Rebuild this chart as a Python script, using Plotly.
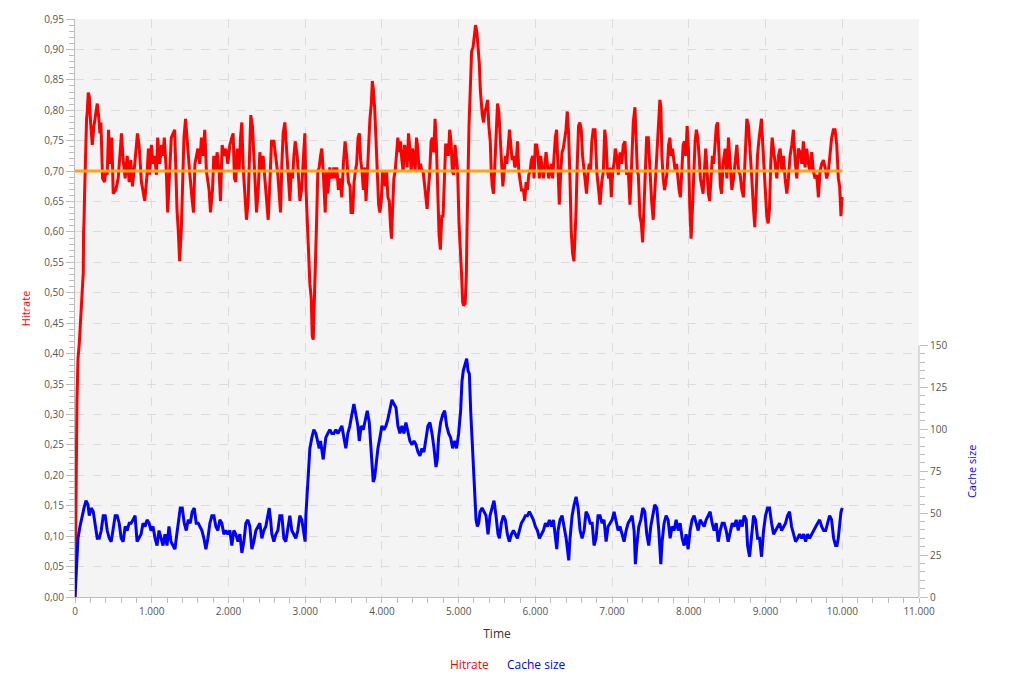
import plotly.graph_objects as go

# ---------------- data ----------------
hit_time = [0, 17, 26, 39, 56, 78, 95, 108, 112, 117, 125, 134, 143, 151, 160, 173, 186, 203, 225, 247,
            273, 290, 307, 325, 338, 346, 359, 385, 403, 420, 437, 454, 480, 498, 532, 563, 606, 628, 654, 680,
            706, 727, 749, 779, 814, 835, 866, 909, 939, 957, 974, 996, 1017, 1039, 1061, 1078, 1104, 1130, 1147, 1164,
            1190, 1208, 1234, 1255, 1299, 1312, 1329, 1346, 1364, 1385, 1407, 1420, 1441, 1463, 1493, 1528, 1545, 1563, 1602, 1626,
            1648, 1670, 1691, 1713, 1748, 1766, 1792, 1809, 1835, 1852, 1878, 1896, 1918, 1940, 1966, 1992, 2018, 2044, 2061, 2078,
            2096, 2113, 2139, 2157, 2174, 2192, 2213, 2235, 2257, 2278, 2291, 2313, 2331, 2349, 2366, 2388, 2409, 2431, 2452, 2478,
            2496, 2518, 2540, 2562, 2592, 2618, 2644, 2661, 2679, 2696, 2713, 2735, 2757, 2779, 2801, 2818, 2835, 2853, 2870, 2896,
            2913, 2931, 2952, 2974, 2996, 3009, 3026, 3044, 3061, 3079, 3092, 3105, 3118, 3131, 3148, 3165, 3183, 3200, 3217, 3235,
            3261, 3278, 3295, 3321, 3347, 3373, 3390, 3412, 3433, 3455, 3477, 3498, 3520, 3541, 3563, 3585, 3598, 3619, 3637, 3654,
            3671, 3689, 3706, 3723, 3741, 3758, 3775, 3793, 3810, 3827, 3844, 3862, 3875, 3888, 3905, 3922, 3940, 3957, 3974, 3992,
            4009, 4026, 4044, 4061, 4078, 4096, 4113, 4126, 4139, 4156, 4173, 4191, 4208, 4225, 4243, 4260, 4277, 4295, 4312, 4329,
            4347, 4364, 4381, 4399, 4416, 4433, 4451, 4468, 4485, 4503, 4520, 4537, 4554, 4572, 4589, 4606, 4624, 4641, 4658, 4676,
            4693, 4710, 4728, 4745, 4762, 4780, 4797, 4814, 4831, 4849, 4866, 4883, 4901, 4918, 4935, 4953, 4970, 4987, 5005, 5022,
            5039, 5052, 5065, 5085, 5100, 5109, 5122, 5135, 5152, 5169, 5187, 5204, 5221, 5238, 5256, 5269, 5282, 5295, 5308, 5325,
            5342, 5360, 5377, 5394, 5412, 5425, 5438, 5455, 5472, 5490, 5507, 5524, 5541, 5559, 5576, 5593, 5611, 5628, 5645, 5663,
            5680, 5697, 5715, 5732, 5749, 5767, 5784, 5801, 5819, 5844, 5862, 5879, 5896, 5914, 5931, 5948, 5966, 5983, 6000, 6018,
            6035, 6052, 6070, 6087, 6104, 6122, 6139, 6156, 6174, 6191, 6208, 6225, 6243, 6260, 6277, 6295, 6312, 6329, 6347, 6364,
            6381, 6399, 6416, 6433, 6451, 6468, 6485, 6503, 6515, 6528, 6546, 6563, 6580, 6598, 6615, 6632, 6650, 6667, 6684, 6702,
            6719, 6736, 6754, 6778, 6800, 6821, 6843, 6865, 6886, 6904, 6921, 6938, 6956, 6973, 6990, 7008, 7025, 7042, 7060, 7081,
            7103, 7125, 7146, 7168, 7190, 7211, 7233, 7255, 7276, 7298, 7311, 7329, 7342, 7363, 7381, 7398, 7415, 7433, 7450, 7472,
            7493, 7515, 7536, 7554, 7571, 7588, 7606, 7623, 7636, 7649, 7666, 7684, 7701, 7718, 7736, 7753, 7770, 7788, 7805, 7822,
            7840, 7857, 7874, 7891, 7909, 7926, 7943, 7961, 7978, 7995, 8013, 8030, 8047, 8065, 8082, 8099, 8117, 8134, 8151, 8169,
            8186, 8203, 8220, 8238, 8255, 8272, 8290, 8307, 8324, 8342, 8359, 8376, 8394, 8411, 8428, 8446, 8474, 8496, 8517, 8539,
            8561, 8583, 8604, 8626, 8648, 8669, 8691, 8713, 8735, 8756, 8778, 8800, 8821, 8843, 8860, 8878, 8895, 8912, 8930, 8947,
            8964, 8982, 8999, 9016, 9034, 9051, 9068, 9086, 9103, 9125, 9147, 9168, 9190, 9212, 9233, 9255, 9277, 9298, 9320, 9342,
            9363, 9385, 9407, 9428, 9450, 9472, 9493, 9515, 9537, 9559, 9580, 9602, 9624, 9645, 9667, 9689, 9710, 9732, 9754, 9776,
            9797, 9819, 9841, 9862, 9884, 9906, 9928, 9949, 9966, 9983, 9995, 10000]

hitrate = [0.0, 0.25, 0.325, 0.392, 0.417, 0.466, 0.509, 0.534, 0.60, 0.614, 0.663, 0.743, 0.749, 0.786, 0.798, 0.829, 0.823, 0.78, 0.743, 0.774,
           0.798, 0.811, 0.792, 0.762, 0.78, 0.718, 0.688, 0.682, 0.70, 0.694, 0.768, 0.712, 0.755, 0.663, 0.669, 0.688, 0.762, 0.718, 0.688, 0.725,
           0.682, 0.718, 0.675, 0.712, 0.762, 0.743, 0.682, 0.651, 0.694, 0.737, 0.694, 0.743, 0.712, 0.725, 0.694, 0.755, 0.712, 0.743, 0.725, 0.755,
           0.70, 0.632, 0.706, 0.755, 0.768, 0.70, 0.638, 0.602, 0.552, 0.602, 0.682, 0.755, 0.786, 0.743, 0.70, 0.651, 0.632, 0.712, 0.737, 0.712,
           0.755, 0.725, 0.768, 0.70, 0.669, 0.632, 0.669, 0.725, 0.70, 0.731, 0.70, 0.651, 0.743, 0.725, 0.737, 0.712, 0.743, 0.755, 0.762, 0.688,
           0.682, 0.737, 0.70, 0.755, 0.78, 0.706, 0.663, 0.62, 0.651, 0.749, 0.792, 0.774, 0.725, 0.688, 0.632, 0.669, 0.731, 0.70, 0.725, 0.682,
           0.651, 0.62, 0.682, 0.749, 0.749, 0.725, 0.694, 0.663, 0.632, 0.712, 0.762, 0.78, 0.737, 0.70, 0.651, 0.70, 0.688, 0.725, 0.749, 0.725,
           0.682, 0.651, 0.669, 0.712, 0.762, 0.675, 0.614, 0.559, 0.515, 0.491, 0.429, 0.423, 0.497, 0.565, 0.614, 0.70, 0.706, 0.725, 0.737, 0.70,
           0.632, 0.70, 0.663, 0.706, 0.688, 0.706, 0.688, 0.706, 0.669, 0.688, 0.657, 0.712, 0.749, 0.725, 0.682, 0.675, 0.632, 0.632, 0.682, 0.70,
           0.712, 0.755, 0.762, 0.718, 0.70, 0.669, 0.706, 0.651, 0.70, 0.749, 0.786, 0.811, 0.848, 0.835, 0.805, 0.755, 0.70, 0.645, 0.632, 0.651,
           0.70, 0.694, 0.675, 0.70, 0.657, 0.651, 0.608, 0.589, 0.638, 0.688, 0.70, 0.725, 0.755, 0.731, 0.749, 0.718, 0.70, 0.743, 0.731, 0.706,
           0.762, 0.737, 0.70, 0.737, 0.725, 0.70, 0.755, 0.737, 0.70, 0.712, 0.70, 0.70, 0.675, 0.657, 0.638, 0.669, 0.70, 0.749, 0.755, 0.731,
           0.786, 0.743, 0.663, 0.595, 0.571, 0.626, 0.626, 0.70, 0.743, 0.743, 0.725, 0.768, 0.749, 0.70, 0.694, 0.743, 0.718, 0.70, 0.614, 0.577,
           0.528, 0.485, 0.479, 0.482, 0.528, 0.60, 0.70, 0.774, 0.835, 0.897, 0.903, 0.928, 0.94, 0.928, 0.903, 0.878, 0.835, 0.805, 0.792, 0.78,
           0.798, 0.805, 0.817, 0.774, 0.749, 0.70, 0.675, 0.663, 0.712, 0.762, 0.811, 0.798, 0.749, 0.70, 0.675, 0.70, 0.725, 0.712, 0.743, 0.768,
           0.743, 0.718, 0.725, 0.706, 0.712, 0.749, 0.70, 0.688, 0.669, 0.669, 0.651, 0.682, 0.669, 0.694, 0.70, 0.718, 0.725, 0.688, 0.743, 0.743,
           0.725, 0.688, 0.725, 0.706, 0.688, 0.706, 0.731, 0.712, 0.688, 0.70, 0.712, 0.688, 0.731, 0.755, 0.768, 0.70, 0.645, 0.694, 0.731, 0.737,
           0.755, 0.768, 0.798, 0.762, 0.688, 0.60, 0.565, 0.552, 0.589, 0.626, 0.712, 0.774, 0.78, 0.768, 0.725, 0.70, 0.682, 0.663, 0.694, 0.712,
           0.70, 0.749, 0.768, 0.768, 0.70, 0.669, 0.645, 0.682, 0.70, 0.768, 0.749, 0.70, 0.688, 0.706, 0.657, 0.70, 0.712, 0.737, 0.725, 0.694,
           0.731, 0.712, 0.743, 0.749, 0.694, 0.70, 0.645, 0.712, 0.78, 0.805, 0.762, 0.70, 0.694, 0.626, 0.614, 0.583, 0.638, 0.70, 0.755, 0.755,
           0.70, 0.651, 0.62, 0.663, 0.70, 0.725, 0.768, 0.817, 0.805, 0.725, 0.688, 0.669, 0.682, 0.70, 0.743, 0.755, 0.725, 0.737, 0.718, 0.70,
           0.712, 0.688, 0.669, 0.657, 0.70, 0.743, 0.749, 0.725, 0.774, 0.737, 0.638, 0.589, 0.638, 0.706, 0.749, 0.768, 0.755, 0.725, 0.688, 0.675,
           0.663, 0.70, 0.737, 0.70, 0.663, 0.651, 0.70, 0.725, 0.712, 0.737, 0.774, 0.78, 0.725, 0.675, 0.663, 0.712, 0.737, 0.688, 0.755, 0.70,
           0.669, 0.688, 0.712, 0.743, 0.70, 0.694, 0.669, 0.657, 0.725, 0.786, 0.774, 0.718, 0.688, 0.638, 0.608, 0.663, 0.725, 0.749, 0.774, 0.786,
           0.743, 0.70, 0.651, 0.626, 0.614, 0.638, 0.712, 0.755, 0.737, 0.712, 0.688, 0.725, 0.737, 0.70, 0.725, 0.688, 0.663, 0.688, 0.725, 0.743,
           0.768, 0.718, 0.688, 0.737, 0.731, 0.712, 0.749, 0.706, 0.737, 0.712, 0.70, 0.731, 0.70, 0.688, 0.694, 0.657, 0.70, 0.712, 0.718, 0.706,
           0.688, 0.70, 0.725, 0.755, 0.768, 0.768, 0.743, 0.688, 0.675, 0.626, 0.657, 0.651]

cache_time = [0, 22, 39, 65, 91, 117, 143, 169, 186, 212, 238, 264, 290, 316, 342, 368, 394, 420, 446, 472,
              498, 524, 550, 576, 602, 628, 654, 680, 706, 731, 757, 783, 809, 835, 861, 887, 913, 939, 965, 991,
              1017, 1043, 1069, 1095, 1121, 1147, 1173, 1199, 1225, 1251, 1277, 1303, 1320, 1346, 1372, 1398, 1424, 1450, 1476, 1502,
              1528, 1554, 1580, 1606, 1654, 1680, 1706, 1732, 1758, 1784, 1810, 1836, 1862, 1888, 1914, 1940, 1966, 1992, 2018, 2044,
              2070, 2097, 2123, 2149, 2175, 2201, 2227, 2253, 2279, 2305, 2331, 2357, 2383, 2409, 2435, 2461, 2487, 2514, 2531, 2549,
              2566, 2592, 2618, 2644, 2670, 2696, 2722, 2748, 2774, 2800, 2826, 2852, 2878, 2904, 2930, 2956, 2982, 2999, 3009, 3026,
              3043, 3061, 3087, 3113, 3139, 3165, 3183, 3200, 3217, 3235, 3252, 3269, 3295, 3321, 3347, 3373, 3400, 3426, 3452, 3478,
              3504, 3530, 3556, 3582, 3608, 3635, 3661, 3687, 3705, 3731, 3757, 3783, 3809, 3835, 3852, 3870, 3887, 3905, 3922, 3948,
              3974, 4000, 4026, 4052, 4078, 4104, 4131, 4157, 4183, 4209, 4235, 4261, 4287, 4313, 4339, 4365, 4392, 4418, 4444, 4470,
              4496, 4522, 4548, 4574, 4600, 4626, 4653, 4679, 4705, 4722, 4739, 4765, 4792, 4818, 4844, 4870, 4896, 4922, 4948, 4974,
              5000, 5026, 5044, 5061, 5088, 5105, 5122, 5140, 5157, 5174, 5192, 5209, 5227, 5244, 5261, 5279, 5305, 5331, 5357, 5383,
              5409, 5435, 5461, 5487, 5513, 5531, 5557, 5583, 5609, 5635, 5661, 5688, 5714, 5740, 5766, 5792, 5818, 5844, 5870, 5896,
              5922, 5948, 5974, 6000, 6027, 6053, 6079, 6105, 6131, 6157, 6183, 6209, 6235, 6261, 6279, 6296, 6322, 6348, 6374, 6401,
              6418, 6435, 6452, 6479, 6505, 6531, 6557, 6583, 6609, 6635, 6661, 6687, 6714, 6740, 6765, 6791, 6817, 6843, 6869, 6895,
              6922, 6948, 6974, 7000, 7026, 7052, 7078, 7104, 7130, 7156, 7183, 7209, 7235, 7261, 7287, 7304, 7322, 7348, 7374, 7400,
              7426, 7452, 7478, 7504, 7530, 7556, 7583, 7609, 7635, 7652, 7678, 7704, 7730, 7756, 7782, 7808, 7835, 7861, 7887, 7913,
              7939, 7965, 7991, 8017, 8043, 8069, 8096, 8122, 8148, 8174, 8200, 8226, 8252, 8278, 8304, 8330, 8357, 8383, 8409, 8435,
              8461, 8487, 8513, 8539, 8566, 8592, 8618, 8644, 8670, 8696, 8722, 8748, 8766, 8792, 8818, 8844, 8870, 8896, 8922, 8948,
              8974, 9000, 9026, 9052, 9079, 9105, 9131, 9157, 9183, 9209, 9235, 9261, 9287, 9313, 9339, 9365, 9392, 9418, 9444, 9470,
              9496, 9522, 9548, 9574, 9600, 9626, 9652, 9678, 9705, 9731, 9757, 9783, 9809, 9835, 9861, 9887, 9913, 9931, 9948, 9966,
              9983, 10000]

cache_size = [0, 19.6, 35, 42, 48.5, 53, 57.4, 55, 48.5, 53, 50.8, 42, 35, 35, 39.6, 48.5, 48.5, 39.6, 35, 33,
              42, 48.5, 48.5, 44, 35, 33, 42, 39.6, 44, 44, 46, 48.5, 33, 35, 37.4, 44, 42, 46, 44, 39.6,
              42, 35, 30.7, 39.6, 35, 30.7, 37.4, 30.7, 42, 33, 30.7, 28.5, 35, 46, 53, 53, 44, 39.6, 46, 44,
              50.8, 53, 44, 44, 39.6, 35, 28.5, 35, 44, 48.5, 48.5, 42, 39.6, 46, 44, 37.4, 39.6, 37.4, 39.6, 30.7,
              39.6, 37.4, 33, 37.4, 26.3, 33, 44, 46, 42, 28.5, 33, 39.6, 42, 44, 35, 39.6, 42, 48.5, 53, 46,
              37.4, 33, 37.4, 39.6, 48.5, 48.5, 35, 33, 42, 48.5, 39.6, 37.4, 35, 39.6, 48.5, 46, 39.6, 33, 48.5, 62,
              75, 88.6, 95, 99.7, 97.5, 90.8, 88.6, 93, 86.4, 82, 88.6, 95, 97.5, 99.7, 97.5, 97.5, 99.7, 97.5, 99.7, 102,
              95, 88.6, 97.5, 102, 108.6, 115, 108.6, 102, 93, 102, 99.7, 106, 111, 104, 90.8, 79.7, 68.6, 71, 79.7, 88.6,
              95, 102, 99.7, 102, 106, 111, 117.5, 115, 113, 102, 97.5, 102, 97.5, 104, 97.5, 93, 90.8, 93, 90.8, 86.4,
              84.1, 88.6, 86.4, 95, 102, 104, 97.5, 88.6, 77.5, 82, 95, 104, 108.6, 111, 102, 97.5, 95, 88.6, 93, 88.6,
              97.5, 111, 128.7, 135, 140, 142, 135, 133, 111, 93, 77.5, 66.3, 46, 42, 44, 50.8, 53, 50.8, 48.5, 37.4,
              48.5, 53, 57.4, 48.5, 37.4, 35, 44, 48.5, 46, 37.4, 33, 37.4, 39.6, 37.4, 35, 39.6, 44, 46, 48.5, 48.5,
              50.8, 48.5, 46, 42, 39.6, 35, 37.4, 39.6, 44, 42, 46, 42, 46, 35, 28.5, 39.6, 46, 48.5, 42, 35,
              28.5, 21.8, 35, 48.5, 55, 59.7, 53, 39.6, 35, 39.6, 50.8, 48.5, 44, 44, 30.7, 35, 48.5, 48.5, 44, 46,
              33, 42, 44, 46, 50.8, 44, 39.6, 42, 37.4, 33, 39.6, 44, 46, 48.5, 39.6, 19.6, 30.7, 42, 46, 53,
              50.8, 37.4, 30.7, 42, 48.5, 55, 53, 39.6, 19.6, 33, 44, 48.5, 46, 35, 42, 39.6, 46, 39.6, 44, 35,
              30.7, 37.4, 28.5, 39.6, 46, 48.5, 44, 39.6, 46, 44, 42, 46, 48.5, 50.8, 44, 39.6, 44, 33, 39.6, 44,
              44, 39.6, 33, 39.6, 44, 42, 46, 39.6, 46, 42, 48.5, 46, 30.7, 24, 35, 48.5, 46, 35, 35, 24,
              39.6, 48.5, 53, 53, 44, 37.4, 39.6, 42, 44, 39.6, 42, 44, 48.5, 50.8, 42, 37.4, 33, 35, 37.4, 35,
              37.4, 33, 37.4, 35, 37.4, 39.6, 42, 44, 46, 42, 39.6, 39.6, 44, 48.5, 46, 35, 30.7, 30.7, 35, 42,
              50.8, 53]

target_time = [0, 10000]
target_hitrate = [0.70, 0.70]

x_ticks = list(range(0, 11001, 1000))
y_ticks = [round(i * 0.05, 2) for i in range(20)]
cache_ticks = [0, 25, 50, 75, 100, 125, 150]
cache_minor = list(range(0, 151, 5))

# ---------------- figure ----------------
FONT = "Open Sans, Noto Sans, sans-serif"
AXIS_C = "#bdbdbd"
GRID_C = "#dcdcdc"
TICK_FONT = dict(family=FONT, size=10, color="#555555")

fig = go.Figure()
fig.add_trace(go.Scatter(x=hit_time, y=hitrate, mode="lines", name="Hitrate",
                         line=dict(color="#ff0000", width=3), yaxis="y"))
fig.add_trace(go.Scatter(x=cache_time, y=cache_size, mode="lines", name="Cache size",
                         line=dict(color="#0000ff", width=3), yaxis="y2"))
fig.add_trace(go.Scatter(x=target_time, y=target_hitrate, mode="lines", name="Target",
                         line=dict(color="#ffa31a", width=3), yaxis="y", showlegend=False))

fig.update_layout(
    width=1014, height=694,
    margin=dict(l=75, r=95, t=11, b=97),
    paper_bgcolor="white", plot_bgcolor="#f4f4f4",
    separators=",.",
    showlegend=False,
    font=dict(family=FONT),
    xaxis=dict(
        range=[0, 11000], tickvals=x_ticks, tickformat=",d",
        showline=True, linecolor=AXIS_C, linewidth=1,
        ticks="outside", ticklen=5, tickcolor=AXIS_C,
        minor=dict(dtick=200, tick0=0, ticks="outside", ticklen=5, tickcolor=AXIS_C, showgrid=False),
        showgrid=True, gridcolor=GRID_C, griddash="dash", gridwidth=1,
        zeroline=False, tickfont=TICK_FONT,
        title=dict(text="Time", font=dict(family=FONT, size=12, color="#333333"), standoff=12),
    ),
    yaxis=dict(
        range=[0, 0.95], tickvals=y_ticks, tickformat=".2f",
        showline=True, linecolor=AXIS_C, linewidth=1,
        ticks="outside", ticklen=8, tickcolor=AXIS_C,
        minor=dict(dtick=0.01, tick0=0, ticks="outside", ticklen=5, tickcolor=AXIS_C, showgrid=False),
        showgrid=True, gridcolor=GRID_C, griddash="dash", gridwidth=1,
        zeroline=False, tickfont=TICK_FONT,
    ),
    yaxis2=dict(
        overlaying="y", side="right", anchor="x",
        range=[0, 344.5], tickvals=cache_ticks,
        showline=False, showgrid=False, zeroline=False,
        ticks="outside", ticklen=8, tickcolor=AXIS_C,
        minor=dict(tickvals=cache_minor, ticks="outside", ticklen=5, tickcolor=AXIS_C, showgrid=False),
        tickfont=TICK_FONT,
    ),
)

# right axis line only spanning the cache-size scale
fig.add_shape(type="line", xref="paper", x0=1, x1=1, yref="y2", y0=0, y1=150,
              line=dict(color=AXIS_C, width=1))
# axis titles
fig.add_annotation(text="Hitrate", xref="paper", x=-0.059, yref="paper", y=0.5,
                   textangle=-90, showarrow=False, xanchor="center", yanchor="middle",
                   font=dict(family=FONT, size=11, color="#ff0000"))
fig.add_annotation(text="Cache size", xref="paper", x=1.0615, yref="y2", y=75,
                   textangle=-90, showarrow=False, xanchor="center", yanchor="middle",
                   font=dict(family=FONT, size=11, color="#0000ff"))
# legend entries (coloured text, centred below the chart)
fig.add_annotation(text="Hitrate", xref="paper", yref="paper", x=0.467, y=-0.117,
                   showarrow=False, xanchor="center", yanchor="middle",
                   font=dict(family=FONT, size=12, color="#ff0000"))
fig.add_annotation(text="Cache size", xref="paper", yref="paper", x=0.547, y=-0.117,
                   showarrow=False, xanchor="center", yanchor="middle",
                   font=dict(family=FONT, size=12, color="#0000ff"))

fig.write_html("out.html")
